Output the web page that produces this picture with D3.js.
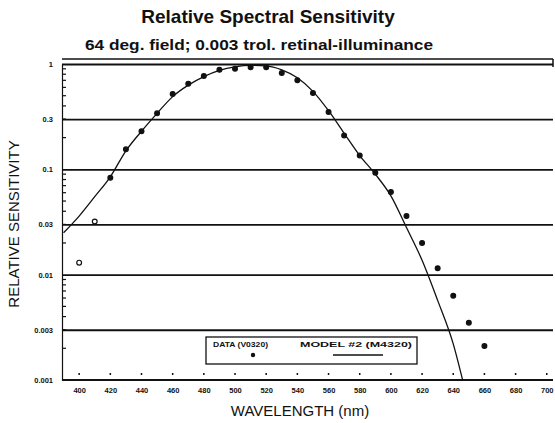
<!DOCTYPE html>
<html><head><meta charset="utf-8">
<script src="https://cdn.jsdelivr.net/npm/d3@7/dist/d3.min.js"></script>
<style>body{margin:0;background:#fff}svg{display:block}</style>
</head><body><svg id="c" width="555" height="423"></svg>
<script>
const title = "Relative Spectral Sensitivity";
const subtitle = "64 deg. field; 0.003 trol. retinal-illuminance";
const xTicks = [400,420,440,460,480,500,520,540,560,580,600,620,640,660,680,700];
const yTicks = [1,0.3,0.1,0.03,0.01,0.003,0.001];
const yTickLabels = ["1","0.3","0.1","0.03","0.01","0.003","0.001"];
const dataWl = [400,410,420,430,440,450,460,470,480,490,500,510,520,530,540,550,560,570,580,590,600,610,620,630,640,650,660];
const dataVal = [0.013,0.032,0.083,0.155,0.23,0.34,0.52,0.65,0.77,0.88,0.9,0.93,0.93,0.82,0.7,0.53,0.35,0.21,0.135,0.093,0.061,0.036,0.020,0.0115,0.0063,0.0035,0.0021];
const modelWl = [390,400,410,420,430,440,450,460,470,480,490,500,510,520,530,540,550,560,570,580,590,600,610,620,630,640,646];
const modelVal = [0.025,0.036,0.055,0.085,0.15,0.23,0.34,0.49,0.63,0.76,0.87,0.94,0.97,0.96,0.88,0.74,0.55,0.36,0.22,0.135,0.09,0.056,0.028,0.0137,0.0057,0.0022,0.001];
const legendData = "DATA (V0320)";
const legendModel = "MODEL #2 (M4320)";

const svg = d3.select("#c");
const L = 62, R = 553, T = 64, B = 380;
const x = d3.scaleLinear().domain([389, 704]).range([L, R]);
const y = d3.scaleLog().domain([1, 0.001]).range([T, B]);
const ink = "#111";
const FF = "Liberation Sans, Arial, sans-serif";

svg.append("text").attr("x", 268).attr("y", 23).attr("text-anchor","middle")
  .attr("font-family",FF).attr("font-weight","bold")
  .attr("font-size",19).attr("fill",ink).text(title);
svg.append("text").attr("x", 259).attr("y", 50).attr("text-anchor","middle")
  .attr("font-family",FF).attr("font-weight","bold")
  .attr("font-size",14).attr("textLength",348).attr("lengthAdjust","spacingAndGlyphs")
  .attr("fill",ink).text(subtitle);

// top frame line
svg.append("line").attr("x1",L).attr("x2",R).attr("y1",T-5).attr("y2",T-5)
  .attr("stroke",ink).attr("stroke-width",1.5);
svg.append("line").attr("x1",R).attr("x2",R).attr("y1",T-5).attr("y2",T+3)
  .attr("stroke",ink).attr("stroke-width",1.5);

// gridlines
const grid = d3.axisLeft(y).tickValues(yTicks.slice(0,-1)).tickSize(-(R-L)).tickFormat("");
const gg = svg.append("g").attr("transform",`translate(${L},0)`).call(grid);
gg.select(".domain").remove();
gg.selectAll("line").attr("stroke",ink).attr("stroke-width",1.8);

// left axis with labels
const yAx = d3.axisLeft(y).tickValues(yTicks).tickSize(0).tickPadding(9)
  .tickFormat((d,i)=>yTickLabels[i]);
const ya = svg.append("g").attr("transform",`translate(${L},0)`).call(yAx);
ya.select(".domain").attr("stroke",ink).attr("stroke-width",1.2);
ya.selectAll("text").attr("font-family",FF)
  .attr("font-weight","bold").attr("font-size",7.5).attr("fill",ink);

// minor ticks on left axis
const minor = [];
for (let e=-3;e<0;e++) for (let k=2;k<=9;k++) minor.push(k*Math.pow(10,e));
svg.append("g").selectAll("line").data(minor).join("line")
  .attr("x1",L).attr("x2",L+4).attr("y1",d=>y(d)).attr("y2",d=>y(d))
  .attr("stroke",ink).attr("stroke-width",1.2);

// bottom axis
const xAx = d3.axisBottom(x).tickValues(xTicks).tickSize(0).tickPadding(8).tickFormat(d3.format("d"));
const xa = svg.append("g").attr("transform",`translate(0,${B})`).call(xAx);
xa.select(".domain").attr("d",`M${L},0H${R}`).attr("stroke",ink).attr("stroke-width",2.2);
xa.selectAll("text").attr("font-family",FF)
  .attr("font-weight","bold").attr("font-size",7.5).attr("fill",ink);
svg.append("g").selectAll("line").data(xTicks).join("line")
  .attr("x1",d=>x(d)).attr("x2",d=>x(d)).attr("y1",B-7).attr("y2",B-5)
  .attr("stroke",ink).attr("stroke-width",1.5);

// axis titles
svg.append("text").attr("x",300).attr("y",416).attr("text-anchor","middle")
  .attr("font-family",FF).attr("font-size",15)
  .attr("fill",ink).text("WAVELENGTH (nm)");
svg.append("text").attr("transform","translate(19,224) rotate(-90)").attr("text-anchor","middle")
  .attr("font-family",FF).attr("font-size",15)
  .attr("fill",ink).text("RELATIVE SENSITIVITY");

// model line
const line = d3.line().x(d=>x(d[0])).y(d=>y(d[1])).curve(d3.curveMonotoneX);
svg.append("path").datum(modelWl.map((w,i)=>[w,modelVal[i]]))
  .attr("d",line).attr("fill","none").attr("stroke",ink).attr("stroke-width",1.3);

// data points
svg.append("g").selectAll("circle").data(dataWl.map((w,i)=>[w,dataVal[i]])).join("circle")
  .attr("cx",d=>x(d[0])).attr("cy",d=>y(d[1])).attr("r",2.4)
  .attr("fill",(d,i)=> (i<2 ? "#fff" : ink)).attr("stroke",ink).attr("stroke-width",1.2);

// legend
const lg = svg.append("g");
lg.append("rect").attr("x",206).attr("y",337).attr("width",211).attr("height",27)
  .attr("fill","#fff").attr("stroke",ink).attr("stroke-width",1.3);
lg.append("text").attr("x",213).attr("y",347).attr("font-family",FF)
  .attr("font-weight","bold").attr("font-size",7.5).attr("textLength",55)
  .attr("lengthAdjust","spacingAndGlyphs").attr("fill",ink).text(legendData);
lg.append("text").attr("x",300).attr("y",347).attr("font-family",FF)
  .attr("font-weight","bold").attr("font-size",7.5).attr("textLength",112)
  .attr("lengthAdjust","spacingAndGlyphs").attr("fill",ink).text(legendModel);
lg.append("circle").attr("cx",253).attr("cy",355).attr("r",2.2).attr("fill",ink);
lg.append("line").attr("x1",333).attr("x2",383).attr("y1",355).attr("y2",355)
  .attr("stroke",ink).attr("stroke-width",1.5);
</script></body></html>
